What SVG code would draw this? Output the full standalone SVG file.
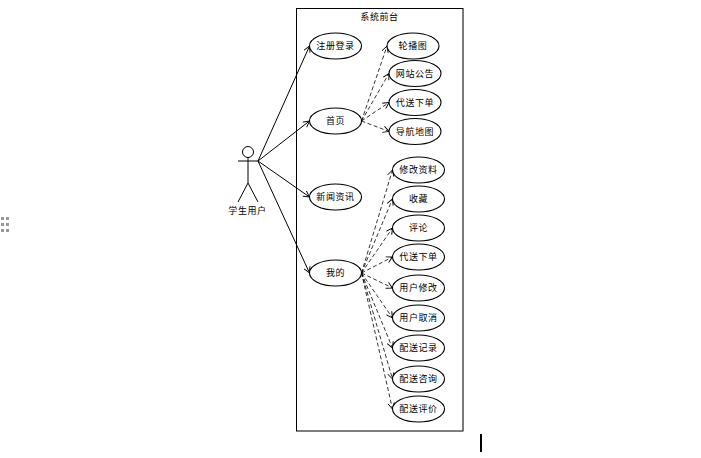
<svg xmlns="http://www.w3.org/2000/svg" width="701" height="458" viewBox="0 0 701 458">
<style>
text{font-family:"Noto Sans CJK SC","Liberation Sans",sans-serif;font-size:9px;fill:#000;text-anchor:middle;letter-spacing:.6px}
.e{fill:#fff;stroke:#000;stroke-width:1.1}
.s{fill:none;stroke:#000;stroke-width:1}
.d{fill:none;stroke:#000;stroke-width:.8;stroke-dasharray:4 2.5;marker-end:url(#a)}
.l{fill:none;stroke:#000;stroke-width:1;marker-end:url(#a)}
</style>
<defs><marker id="a" markerWidth="8" markerHeight="8" refX="7" refY="4" orient="auto" markerUnits="userSpaceOnUse"><path d="M1 .8L7 4L1 7.2" fill="none" stroke="#000" stroke-width=".9"/></marker></defs>
<rect width="701" height="458" fill="#fff"/>
<g id="handle" fill="#999"><rect x="1" y="217" width="3" height="3"/><rect x="6" y="217" width="3" height="3"/><rect x="1" y="223" width="3" height="3"/><rect x="6" y="223" width="3" height="3"/><rect x="1" y="229" width="3" height="3"/><rect x="6" y="229" width="3" height="3"/></g>
<g id="boundary"><rect x="296.500" y="8.500" width="166.500" height="422.500" fill="#fff" stroke="#000"/><path d="M463 9V431" stroke="#777" stroke-width="1"/><text x="379.500" y="20">系统前台</text></g>
<g id="connectors">
<path class="l" d="M258 161L309.500 46"/><path class="l" d="M258 161L309.500 121"/><path class="l" d="M258 161L309.500 197"/><path class="l" d="M258 161L309.500 273"/>
<path class="d" d="M361.500 121L387 46"/><path class="d" d="M361.500 121L389 73.500"/><path class="d" d="M361.500 121L389 102.500"/><path class="d" d="M361.500 121L389 131.500"/>
<path class="d" d="M361.500 273L392.500 170"/><path class="d" d="M361.500 273L392.500 199"/><path class="d" d="M361.500 273L392.500 228"/><path class="d" d="M361.500 273L392.500 257"/><path class="d" d="M361.500 273L392.500 288"/><path class="d" d="M361.500 273L392.500 318"/><path class="d" d="M361.500 273L392.500 348"/><path class="d" d="M361.500 273L392.500 379"/><path class="d" d="M361.500 273L392.500 409"/>
</g>
<g id="actor"><circle class="s" cx="248" cy="152" r="5.500"/><path class="s" d="M238 161H258M248 157.500V183M248 183L238 202M248 183L258 202" stroke="#222"/><text x="247.500" y="214">学生用户</text></g>
<g id="n1"><ellipse class="e" cx="335.500" cy="46" rx="26" ry="13"/><text x="335.500" y="49">注册登录</text></g>
<g id="n2"><ellipse class="e" cx="335.500" cy="121" rx="26" ry="13"/><text x="335.500" y="124">首页</text></g>
<g id="n3"><ellipse class="e" cx="335.500" cy="197" rx="26" ry="13"/><text x="335.500" y="200">新闻资讯</text></g>
<g id="n4"><ellipse class="e" cx="335.500" cy="273" rx="26" ry="13"/><text x="335.500" y="276">我的</text></g>
<g id="n5"><ellipse class="e" cx="413" cy="46" rx="26" ry="13"/><text x="413" y="49">轮播图</text></g>
<g id="n6"><ellipse class="e" cx="415" cy="73.500" rx="26" ry="13"/><text x="415" y="77">网站公告</text></g>
<g id="n7"><ellipse class="e" cx="415" cy="102.500" rx="26" ry="13"/><text x="415" y="106">代送下单</text></g>
<g id="n8"><ellipse class="e" cx="415" cy="131.500" rx="26" ry="13"/><text x="415" y="135">导航地图</text></g>
<g id="n9"><ellipse class="e" cx="418.500" cy="170" rx="26" ry="13"/><text x="418.500" y="173">修改资料</text></g>
<g id="n10"><ellipse class="e" cx="418.500" cy="199" rx="26" ry="13"/><text x="418.500" y="202">收藏</text></g>
<g id="n11"><ellipse class="e" cx="418.500" cy="228" rx="26" ry="13"/><text x="418.500" y="231">评论</text></g>
<g id="n12"><ellipse class="e" cx="418.500" cy="257" rx="26" ry="13"/><text x="418.500" y="260">代送下单</text></g>
<g id="n13"><ellipse class="e" cx="418.500" cy="288" rx="26" ry="13"/><text x="418.500" y="291">用户修改</text></g>
<g id="n14"><ellipse class="e" cx="418.500" cy="318" rx="26" ry="13"/><text x="418.500" y="321">用户取消</text></g>
<g id="n15"><ellipse class="e" cx="418.500" cy="348" rx="26" ry="13"/><text x="418.500" y="351">配送记录</text></g>
<g id="n16"><ellipse class="e" cx="418.500" cy="379" rx="26" ry="13"/><text x="418.500" y="382">配送咨询</text></g>
<g id="n17"><ellipse class="e" cx="418.500" cy="409" rx="26" ry="13"/><text x="418.500" y="412">配送评价</text></g>
<rect id="cursor" x="480" y="434" width="2" height="18" fill="#000"/>
</svg>
